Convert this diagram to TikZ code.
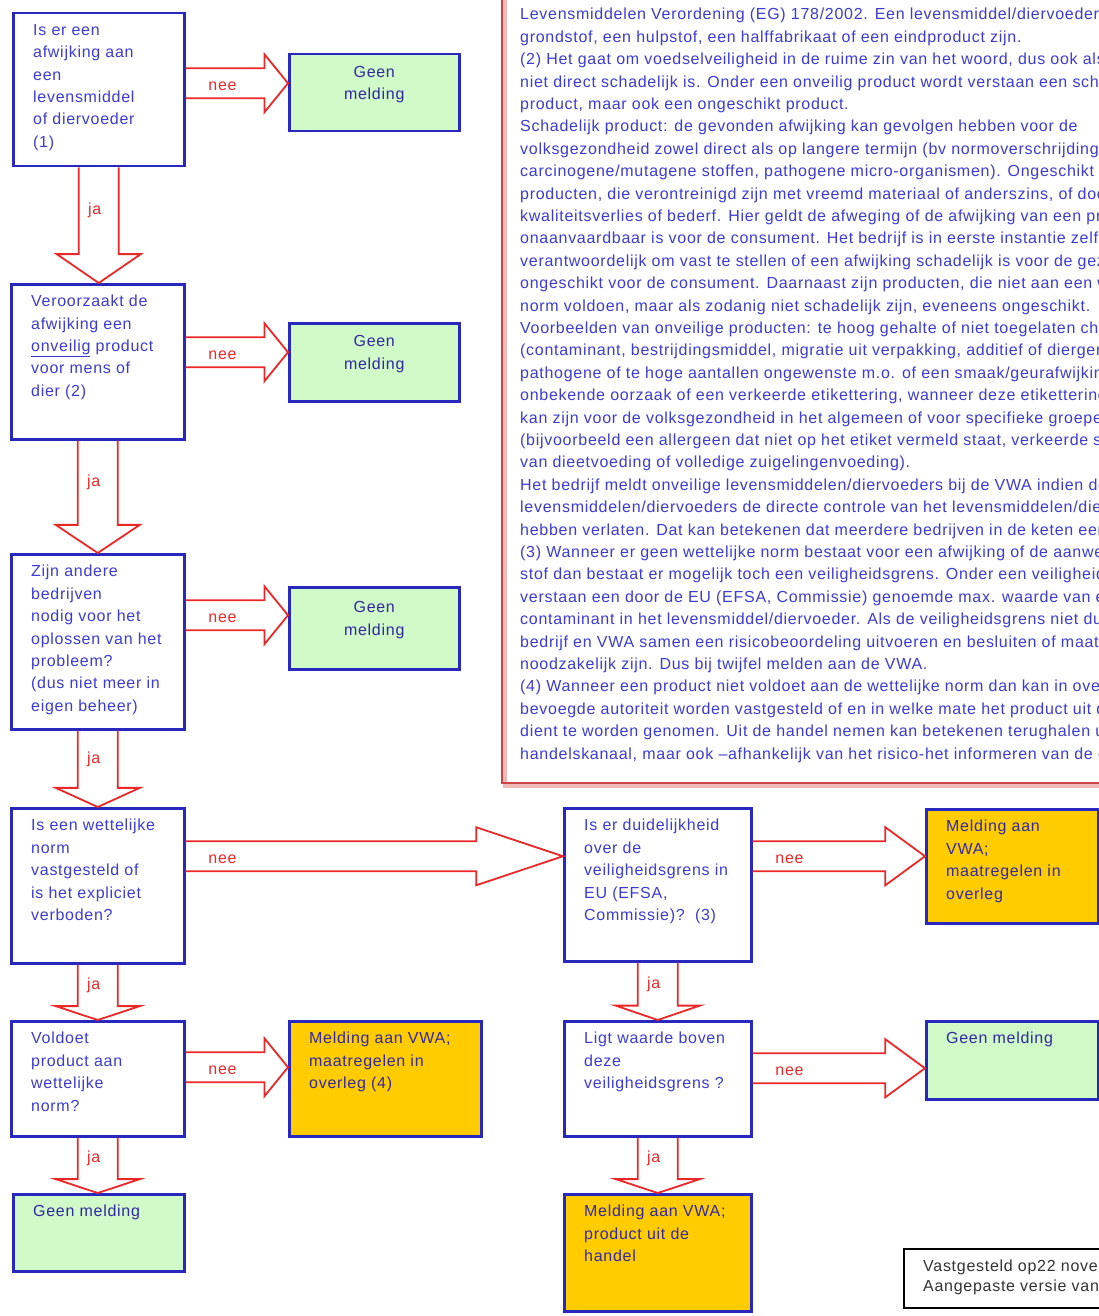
\documentclass[tikz,border=0pt]{standalone}
\usepackage{fontspec}
\setmainfont{Liberation Sans}[LetterSpace=4.5]
\usetikzlibrary{calc}

\definecolor{boxblue}{RGB}{40,40,190}
\definecolor{txtblue}{RGB}{60,60,210}
\definecolor{txtdark}{RGB}{50,40,160}
\definecolor{arrowred}{RGB}{235,40,40}
\definecolor{framered}{RGB}{200,70,70}
\definecolor{framepink}{RGB}{240,185,185}
\definecolor{geenfill}{RGB}{208,250,200}
\definecolor{meldfill}{RGB}{255,204,0}

\tikzset{
  every node/.style={font=\fontsize{16}{22.4}\selectfont, inner sep=0pt},
  vraag/.style={draw=boxblue, line width=2.5pt, fill=white, anchor=north west},
  geen/.style={vraag, fill=geenfill},
  meld/.style={vraag, fill=meldfill},
  boxtext/.style={anchor=north west, align=left, text=txtblue, xshift=21pt, yshift=-12pt},
  darktext/.style={boxtext, text=txtdark},
  blockarrow/.style={draw=arrowred, line width=1.8pt, line join=miter},
  neelabel/.style={text=arrowred},
  jalabel/.style={text=arrowred},
}

% nee-pijl: van, naar, verschuiving van de as t.o.v. het midden van het doel
\newcommand{\neepijl}[3]{%
  \draw[blockarrow] let \p1=(#1.east), \p2=($(#2.west)+(0,#3)$), \n1={0.23*(\x2-\x1)} in
    (\x1,\y2+15pt) -- (\x2-\n1,\y2+15pt) -- (\x2-\n1,\y2+29pt) -- (\x2,\y2)
    -- (\x2-\n1,\y2-29pt) -- (\x2-\n1,\y2-15pt) -- (\x1,\y2-15pt)
    (\x1+37pt,\y2-3pt) node[neelabel] (#1nee) {nee};}

% ja-pijl: van, naar
\newcommand{\japijl}[2]{%
  \draw[blockarrow] let \p1=(#1.south), \p2=(#2.north), \n1={0.25*(\y1-\y2)} in
    (\x1-20pt,\y1) -- (\x1-20pt,\y2+\n1) -- (\x1-42pt,\y2+\n1) -- (\x1,\y2)
    -- (\x1+42pt,\y2+\n1) -- (\x1+20pt,\y2+\n1) -- (\x1+20pt,\y1)
    (\x1-4pt,{0.5*(\y1+\y2+\n1)}) node[jalabel] (#1ja) {ja};}

\begin{document}
\begin{tikzpicture}[x=1pt,y=-1pt]
  \useasboundingbox (0,0) rectangle (1099,1316);
  \fill[white] (0,0) rectangle (1099,1316);

  % toelichting
  \begin{scope}
    \clip (0,0) rectangle (1099,1316);
    \draw[framepink, line width=4pt] (505,-10) -- (505,786) -- (1120,786);
    \draw[framered, line width=2pt] (502,-10) rectangle (1120,783);
    \node[anchor=north west, align=left, text=txtblue] (info) at (520,8) {%
      Levensmiddelen Verordening (EG) 178/2002. Een levensmiddel/diervoeder kan een\\
      grondstof, een hulpstof, een halffabrikaat of een eindproduct zijn.\\
      (2) Het gaat om voedselveiligheid in de ruime zin van het woord, dus ook als het\\
      niet direct schadelijk is. Onder een onveilig product wordt verstaan een schadelijk\\
      product, maar ook een ongeschikt product.\\
      Schadelijk product: de gevonden afwijking kan gevolgen hebben voor de\\
      volksgezondheid zowel direct als op langere termijn (bv normoverschrijdingen\\
      carcinogene/mutagene stoffen, pathogene micro-organismen). Ongeschikt zijn\\
      producten, die verontreinigd zijn met vreemd materiaal of anderszins, of door\\
      kwaliteitsverlies of bederf. Hier geldt de afweging of de afwijking van een product\\
      onaanvaardbaar is voor de consument. Het bedrijf is in eerste instantie zelf\\
      verantwoordelijk om vast te stellen of een afwijking schadelijk is voor de gezondheid\\
      ongeschikt voor de consument. Daarnaast zijn producten, die niet aan een wettelijke\\
      norm voldoen, maar als zodanig niet schadelijk zijn, eveneens ongeschikt.\\
      Voorbeelden van onveilige producten: te hoog gehalte of niet toegelaten chemische\\
      (contaminant, bestrijdingsmiddel, migratie uit verpakking, additief of diergeneesmiddel),\\
      pathogene of te hoge aantallen ongewenste m.o. of een smaak/geurafwijking door\\
      onbekende oorzaak of een verkeerde etikettering, wanneer deze etikettering schadelijk\\
      kan zijn voor de volksgezondheid in het algemeen of voor specifieke groepen\\
      (bijvoorbeeld een allergeen dat niet op het etiket vermeld staat, verkeerde samenstelling\\
      van dieetvoeding of volledige zuigelingenvoeding).\\
      Het bedrijf meldt onveilige levensmiddelen/diervoeders bij de VWA indien deze\\
      levensmiddelen/diervoeders de directe controle van het levensmiddelen/diervoederbedrijf\\
      hebben verlaten. Dat kan betekenen dat meerdere bedrijven in de keten een melding\\
      (3) Wanneer er geen wettelijke norm bestaat voor een afwijking of de aanwezigheid\\
      stof dan bestaat er mogelijk toch een veiligheidsgrens. Onder een veiligheidsgrens\\
      verstaan een door de EU (EFSA, Commissie) genoemde max. waarde van een\\
      contaminant in het levensmiddel/diervoeder. Als de veiligheidsgrens niet duidelijk\\
      bedrijf en VWA samen een risicobeoordeling uitvoeren en besluiten of maatregelen\\
      noodzakelijk zijn. Dus bij twijfel melden aan de VWA.\\
      (4) Wanneer een product niet voldoet aan de wettelijke norm dan kan in overleg\\
      bevoegde autoriteit worden vastgesteld of en in welke mate het product uit de handel\\
      dient te worden genomen. Uit de handel nemen kan betekenen terughalen uit het\\
      handelskanaal, maar ook –afhankelijk van het risico-het informeren van de consument};
  \end{scope}

  % vragen en uitkomsten
  \node[vraag, minimum width=171pt, minimum height=153pt] (q1) at (12,12) {};
  \node[boxtext] (q1t) at (q1.north west) {Is er een\\afwijking aan\\een\\levensmiddel\\of diervoeder\\(1)};
  \node[geen, minimum width=170pt, minimum height=77pt] (g1) at (288,53) {};
  \node[align=center, text=txtdark] (g1t) at ([yshift=8pt]g1.center) {Geen\\melding};

  \node[vraag, minimum width=173pt, minimum height=155pt] (q2) at (10,283) {};
  \node[boxtext] (q2t) at (q2.north west) {Veroorzaakt de\\afwijking een\\\underline{onveilig} product\\voor mens of\\dier (2)};
  \node[geen, minimum width=170pt, minimum height=78pt] (g2) at (288,322) {};
  \node[align=center, text=txtdark] (g2t) at ([yshift=8pt]g2.center) {Geen\\melding};

  \node[vraag, minimum width=173pt, minimum height=175pt] (q3) at (10,553) {};
  \node[boxtext] (q3t) at (q3.north west) {Zijn andere\\bedrijven\\nodig voor het\\oplossen van het\\probleem?\\(dus niet meer in\\eigen beheer)};
  \node[geen, minimum width=170pt, minimum height=82pt] (g3) at (288,586) {};
  \node[align=center, text=txtdark] (g3t) at ([yshift=8pt]g3.center) {Geen\\melding};

  \node[vraag, minimum width=173pt, minimum height=155pt] (q4) at (10,807) {};
  \node[boxtext] (q4t) at (q4.north west) {Is een wettelijke\\norm\\vastgesteld of\\is het expliciet\\verboden?};

  \node[vraag, minimum width=187pt, minimum height=153pt] (q5) at (563,807) {};
  \node[boxtext] (q5t) at (q5.north west) {Is er duidelijkheid\\over de\\veiligheidsgrens in\\EU (EFSA,\\Commissie)?\ \ (3)};
  \node[meld, minimum width=172pt, minimum height=114pt] (o1) at (925,808) {};
  \node[darktext] (o1t) at (o1.north west) {Melding aan\\VWA;\\maatregelen in\\overleg};

  \node[vraag, minimum width=173pt, minimum height=115pt] (q7) at (10,1020) {};
  \node[boxtext] (q7t) at (q7.north west) {Voldoet\\product aan\\wettelijke\\norm?};
  \node[meld, minimum width=192pt, minimum height=115pt] (o3) at (288,1020) {};
  \node[darktext] (o3t) at (o3.north west) {Melding aan VWA;\\maatregelen in\\overleg (4)};

  \node[vraag, minimum width=187pt, minimum height=115pt] (q6) at (563,1020) {};
  \node[boxtext] (q6t) at (q6.north west) {Ligt waarde boven\\deze\\veiligheidsgrens ?};
  \node[geen, minimum width=172pt, minimum height=78pt] (g4) at (925,1020) {};
  \node[darktext] (g4t) at (g4.north west) {Geen melding};

  \node[geen, minimum width=171pt, minimum height=77pt] (g5) at (12,1193) {};
  \node[darktext] (g5t) at (g5.north west) {Geen melding};
  \node[meld, minimum width=187pt, minimum height=117pt] (o2) at (563,1193) {};
  \node[darktext] (o2t) at (o2.north west) {Melding aan VWA;\\product uit de\\handel};

  % pijlen
  \neepijl{q1}{g1}{-9.5}
  \neepijl{q2}{g2}{-10}
  \neepijl{q3}{g3}{-13}
  \neepijl{q4}{q5}{-28.5}
  \neepijl{q5}{o1}{-10}
  \neepijl{q7}{o3}{-11.5}
  \neepijl{q6}{g4}{8}
  \japijl{q1}{q2}
  \japijl{q2}{q3}
  \japijl{q3}{q4}
  \japijl{q4}{q7}
  \japijl{q7}{g5}
  \japijl{q5}{q6}
  \japijl{q6}{o2}

  % datum
  \begin{scope}
    \clip (0,0) rectangle (1099,1316);
    \node[draw=black, line width=1.5pt, fill=white, anchor=north west, minimum width=230pt, minimum height=59pt] (noot) at (903,1248) {};
    \node[anchor=north west, align=left, text=black!80, font=\fontsize{16}{20}\selectfont] (noott) at ([xshift=20pt,yshift=-12pt]noot.north west) {Vastgesteld op22 november\\Aangepaste versie van t};
  \end{scope}
\end{tikzpicture}
\end{document}
